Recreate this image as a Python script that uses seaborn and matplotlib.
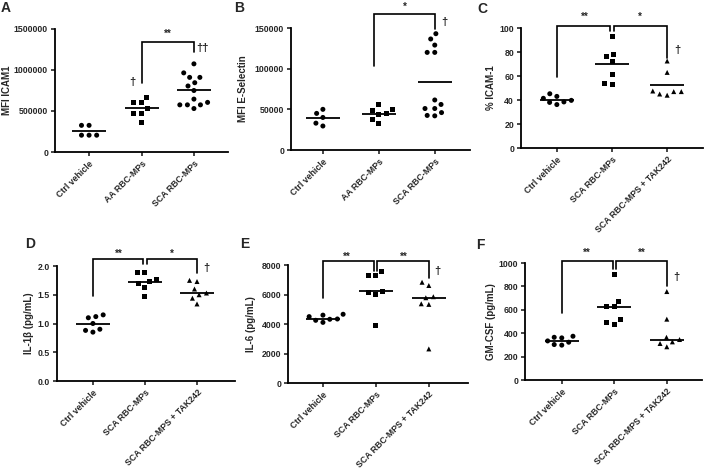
import matplotlib
matplotlib.use("Agg")
import matplotlib.pyplot as plt
import numpy as np
import pandas as pd
import seaborn as sns

# --- data ---
cats_ab = ["Ctrl vehicle", "AA RBC-MPs", "SCA RBC-MPs"]
cats_cf = ["Ctrl vehicle", "SCA RBC-MPs", "SCA RBC-MPS + TAK242"]

icam1_ctrl = [325000, 325000, 205000, 205000, 205000]
icam1_aa = [670000, 605000, 605000, 530000, 475000, 475000, 360000]
icam1_sca = [1075000, 965000, 910000, 910000, 845000, 805000, 750000,
             645000, 605000, 575000, 575000, 575000, 530000]

esel_ctrl = [50000, 45000, 40000, 33000, 29500]
esel_aa = [56500, 50000, 48000, 45000, 44000, 37500, 32000]
esel_sca = [143000, 136500, 129000, 120000, 120000, 61500, 56000,
            51000, 51000, 46000, 42000, 42500]

pct_ctrl = [45.2, 43.0, 41.4, 39.7, 38.4, 38.0, 36.2]
pct_sca = [92.9, 78.0, 76.0, 72.0, 61.5, 54.0, 53.0]
pct_tak = [72.5, 63.0, 47.5, 47.0, 47.0, 45.0, 44.0]

il1b_ctrl = [1.15, 1.12, 1.10, 1.00, 0.90, 0.88, 0.85]
il1b_sca = [1.89, 1.89, 1.76, 1.73, 1.69, 1.63, 1.47]
il1b_tak = [1.75, 1.73, 1.60, 1.53, 1.50, 1.44, 1.34]

il6_ctrl = [4660, 4600, 4500, 4340, 4320, 4250, 4110]
il6_sca = [7570, 7270, 7270, 6230, 6130, 6010, 3910]
il6_tak = [6830, 6610, 5850, 5780, 5370, 5330, 2310]

gmcsf_ctrl = [374, 365, 360, 334, 323, 303, 298]
gmcsf_sca = [899, 674, 624, 624, 514, 494, 478]
gmcsf_tak = [756, 520, 365, 346, 326, 312, 284]

sns.set_style("ticks")
plt.rcParams["font.family"] = ["Liberation Sans", "DejaVu Sans"]
plt.rcParams["font.weight"] = "bold"
plt.rcParams["axes.labelweight"] = "bold"

W, H = 704, 469
fig = plt.figure(figsize=(W / 100, H / 100), dpi=100)


def draw_panel(box, cats, groups, markers, est, ylabel, label_x, yticks, fmt, xlim):
    l, r, t, b = box
    ax = fig.add_axes([l / W, 1 - b / H, (r - l) / W, (b - t) / H])
    df = pd.DataFrame({
        "group": [c for c, g in zip(cats, groups) for _ in g],
        "value": [v for g in groups for v in g],
    })
    for cat, m in zip(cats, markers):
        sns.swarmplot(data=df[df["group"] == cat], x="group", y="value", order=cats,
                      marker=m, color="black", size=3.6, linewidth=1.6,
                      edgecolor="none", ax=ax)
    sns.pointplot(data=df, x="group", y="value", order=cats, estimator=est,
                  errorbar=None, color="black", marker="_", markersize=25,
                  markeredgewidth=1.3, linestyle="none", ax=ax)
    ax.set_xlim(*xlim)
    ax.set_ylim(yticks[0], yticks[-1])
    ax.set_yticks(yticks)
    ax.set_yticklabels([fmt.format(t) for t in yticks])
    ax.set_xticks(range(len(cats)))
    ax.set_xticklabels(cats)
    plt.setp(ax.get_xticklabels(), rotation=45, ha="right", rotation_mode="anchor")
    ax.set_xlabel("")
    ax.set_ylabel(ylabel, fontsize=7)
    # y label centre given in pixels from the left edge of the figure
    ax.yaxis.set_label_coords((label_x + 4.5 - l) / (r - l), 0.5)
    ax.tick_params(axis="both", direction="out", length=3, width=1.2,
                   labelsize=6.3, pad=2)
    sns.despine(ax=ax)
    for s in ("left", "bottom"):
        ax.spines[s].set_linewidth(1.3)
        ax.spines[s].set_color("black")
    return ax


def bracket(ax, x0, x1, ytop, y0, y1):
    ax.plot([x0, x0, x1, x1], [y0, ytop, ytop, y1], color="black", lw=1.2,
            clip_on=False, solid_joinstyle="miter")


def mark(ax, x, y, s, size=7):
    ax.text(x, y, s, ha="center", va="center", fontsize=size, fontweight="bold",
            clip_on=False)


# A
ax = draw_panel((55, 228, 29, 152), cats_ab, [icam1_ctrl, icam1_aa, icam1_sca],
                ["o", "s", "o"], "mean", "MFI ICAM1", 8,
                [0, 500000, 1000000, 1500000], "{:.0f}", (-0.65, 2.65))
bracket(ax, 1, 2, 1347000, 837000, 1216000)
mark(ax, 1.5, 1440000, "**")
mark(ax, 0.82, 850000, "†", 8)
mark(ax, 2.17, 1265000, "††", 8)

# B
ax = draw_panel((291, 470, 28, 150), cats_ab, [esel_ctrl, esel_aa, esel_sca],
                ["o", "s", "o"], "mean", "MFI E-Selectin", 243,
                [0, 50000, 100000, 150000], "{:.0f}", (-0.57, 2.63))
bracket(ax, 0.91, 2, 167500, 103000, 149000)
mark(ax, 1.47, 176000, "*")
mark(ax, 2.18, 157000, "†", 8)

# C
ax = draw_panel((521, 703, 28, 148), cats_cf, [pct_ctrl, pct_sca, pct_tak],
                ["o", "s", "^"], "mean", "% ICAM-1", 492,
                [0, 20, 40, 60, 80, 100], "{:.0f}", (-0.65, 2.65))
bracket(ax, 0, 0.957, 101.9, 58.9, 97.8)
bracket(ax, 1.045, 2, 101.9, 97.8, 75.3)
mark(ax, 0.5, 109.7, "**")
mark(ax, 1.5, 109.7, "*")
mark(ax, 2.18, 82, "†", 8)

# D
ax = draw_panel((57, 235, 266, 381), cats_cf, [il1b_ctrl, il1b_sca, il1b_tak],
                ["o", "s", "^"], "median", "IL-1β (pg/mL)", 29,
                [0.0, 0.5, 1.0, 1.5, 2.0], "{:.1f}", (-0.69, 2.73))
bracket(ax, 0, 0.97, 2.12, 1.47, 2.03)
bracket(ax, 1.03, 2, 2.12, 2.03, 1.87)
mark(ax, 0.49, 2.22, "**")
mark(ax, 1.51, 2.22, "*")
mark(ax, 2.18, 1.96, "†", 8)

# E
ax = draw_panel((288, 468, 265, 383), cats_cf, [il6_ctrl, il6_sca, il6_tak],
                ["o", "s", "^"], "median", "IL-6 (pg/mL)", 252,
                [0, 2000, 4000, 6000, 8000], "{:.0f}", (-0.66, 2.74))
bracket(ax, 0, 0.96, 8251, 5737, 7611)
bracket(ax, 1.03, 2, 8251, 7611, 7109)
mark(ax, 0.46, 8563, "**")
mark(ax, 1.53, 8563, "**")
mark(ax, 2.17, 7611, "†", 8)

# F
ax = draw_panel((525, 702, 263, 380), cats_cf, [gmcsf_ctrl, gmcsf_sca, gmcsf_tak],
                ["o", "s", "^"], "median", "GM-CSF (pg/mL)", 491,
                [0, 200, 400, 600, 800, 1000], "{:.0f}", (-0.70, 2.67))
bracket(ax, 0, 0.97, 1020, 570, 949)
bracket(ax, 1.03, 2, 1020, 949, 803)
mark(ax, 0.47, 1091, "**")
mark(ax, 1.52, 1091, "**")
mark(ax, 2.18, 879, "†", 8)

# panel letters
for letter, (x, y) in zip("ABCDEF", [(6, 8), (239, 8), (482, 9),
                                     (30, 244), (245, 244), (480, 245)]):
    fig.text(x / W, 1 - y / H, letter, ha="center", va="center",
             fontsize=10, fontweight="bold")

fig.savefig("out.png", dpi=100)
